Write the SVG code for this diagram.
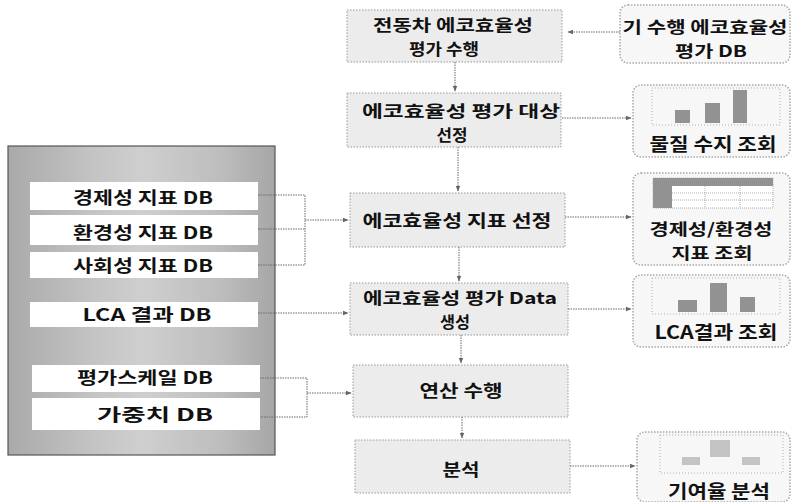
<svg xmlns="http://www.w3.org/2000/svg" width="793" height="502" viewBox="0 0 793 502">
<defs>
<linearGradient id="panelGrad" x1="0" y1="0" x2="1" y2="0">
<stop offset="0" stop-color="#a9a9a9"/>
<stop offset="0.3" stop-color="#c2c2c2"/>
<stop offset="0.5" stop-color="#cfcfcf"/>
<stop offset="0.8" stop-color="#bdbdbd"/>
<stop offset="1" stop-color="#a6a6a6"/>
</linearGradient>
<marker id="arr" viewBox="0 0 10 10" refX="9" refY="5" markerWidth="6" markerHeight="6" orient="auto">
<path d="M0,1 L10,5 L0,9 z" fill="#666"/>
</marker>
</defs>
<style>
text{font-family:"Noto Sans CJK KR","Noto Sans",sans-serif;font-weight:bold;fill:#111;text-anchor:middle}
.t{font-size:17px}
.t2{font-size:16px}
.r{font-size:18px}
.r2{font-size:16px}
.proc{fill:#ececec;stroke:#9a9a9a;stroke-width:1;stroke-dasharray:1.5 1.5}
.db{fill:#ffffff}
.card{fill:#f7f7f7;stroke:#a8a8a8;stroke-width:1.5;stroke-dasharray:1.5 1.5}
.frame{fill:none;stroke:#b0b0b0;stroke-width:1;stroke-dasharray:1 2}
.bar{fill:#929292}
.lbar{fill:#c4c4c4}
.con{fill:none;stroke:#6a6a6a;stroke-width:1;stroke-dasharray:1.5 1}
</style>
<rect width="793" height="502" fill="#ffffff"/>

<g id="db-panel">
<rect x="8" y="146" width="267" height="309" fill="url(#panelGrad)" stroke="#555" stroke-width="1.2"/>
</g>
<g id="db-econ">
<rect class="db" x="30" y="182" width="228" height="28"/>
<text class="t" x="143" y="204" textLength="140" lengthAdjust="spacingAndGlyphs">경제성 지표 DB</text>
</g>
<g id="db-env">
<rect class="db" x="30" y="215" width="228" height="30"/>
<text class="t" x="143" y="239" textLength="140" lengthAdjust="spacingAndGlyphs">환경성 지표 DB</text>
</g>
<g id="db-social">
<rect class="db" x="30" y="252" width="228" height="26"/>
<text class="t" x="143" y="272" textLength="140" lengthAdjust="spacingAndGlyphs">사회성 지표 DB</text>
</g>
<g id="db-lca">
<rect class="db" x="30" y="302" width="228" height="25"/>
<text class="t" x="147" y="321" textLength="129" lengthAdjust="spacingAndGlyphs">LCA 결과 DB</text>
</g>
<g id="db-scale">
<rect class="db" x="32" y="365" width="228" height="27"/>
<text class="t" x="145" y="384" textLength="136" lengthAdjust="spacingAndGlyphs">평가스케일 DB</text>
</g>
<g id="db-weight">
<rect class="db" x="32" y="398" width="228" height="32"/>
<text class="t" x="155" y="421" textLength="116" lengthAdjust="spacingAndGlyphs">가중치 DB</text>
</g>

<g id="p1">
<rect class="proc" x="347" y="10" width="215" height="52"/>
<text class="t2" x="453" y="31" textLength="160" lengthAdjust="spacingAndGlyphs">전동차 에코효율성</text>
<text class="t2" x="444" y="55" textLength="70" lengthAdjust="spacingAndGlyphs">평가 수행</text>
</g>
<g id="p2">
<rect class="proc" x="347" y="93" width="214" height="54"/>
<text class="t2" x="461" y="117" textLength="198" lengthAdjust="spacingAndGlyphs">에코효율성 평가 대상</text>
<text class="t2" x="452" y="141" textLength="31" lengthAdjust="spacingAndGlyphs">선정</text>
</g>
<g id="p3">
<rect class="proc" x="350" y="193" width="215" height="54"/>
<text class="t" x="457" y="227" textLength="189" lengthAdjust="spacingAndGlyphs">에코효율성 지표 선정</text>
</g>
<g id="p4">
<rect class="proc" x="350" y="283" width="218" height="52"/>
<text class="t2" x="460" y="304" textLength="194" lengthAdjust="spacingAndGlyphs">에코효율성 평가 Data</text>
<text class="t2" x="455" y="328" textLength="30" lengthAdjust="spacingAndGlyphs">생성</text>
</g>
<g id="p5">
<rect class="proc" x="353" y="365" width="215" height="52"/>
<text class="t" x="461" y="397" textLength="83" lengthAdjust="spacingAndGlyphs">연산 수행</text>
</g>
<g id="p6">
<rect class="proc" x="355" y="440" width="215" height="53"/>
<text class="t" x="461" y="476" textLength="37" lengthAdjust="spacingAndGlyphs">분석</text>
</g>

<g id="r1">
<rect class="card" x="620" y="5" width="170" height="58" rx="8"/>
<text class="r2" x="705" y="33" textLength="165" lengthAdjust="spacingAndGlyphs">기 수행 에코효율성</text>
<text class="r2" x="711" y="57" textLength="72" lengthAdjust="spacingAndGlyphs">평가 DB</text>
</g>
<g id="r2">
<rect class="card" x="633" y="85" width="157" height="72" rx="8"/>
<rect class="frame" x="652" y="88" width="128" height="37"/>
<rect class="bar" x="675" y="110" width="15" height="13"/>
<rect class="bar" x="705" y="103" width="15" height="20"/>
<rect class="bar" x="733" y="90" width="14" height="33"/>
<text class="r" x="713" y="151" textLength="127" lengthAdjust="spacingAndGlyphs">물질 수지 조회</text>
</g>
<g id="r3">
<rect class="card" x="633" y="173" width="157" height="92" rx="8"/>
<rect x="653" y="178" width="120" height="30" fill="#ffffff" stroke="#999" stroke-width="0.8" stroke-dasharray="1 1"/>
<rect class="bar" x="653" y="178" width="120" height="8"/>
<rect class="bar" x="653" y="178" width="19" height="30"/>
<path d="M672 193 H773 M672 200 H773 M705 186 V208 M740 186 V208" stroke="#999" stroke-width="0.8" stroke-dasharray="1 1" fill="none"/>
<text class="r2" x="711" y="235" textLength="123" lengthAdjust="spacingAndGlyphs">경제성/환경성</text>
<text class="r2" x="712" y="259" textLength="81" lengthAdjust="spacingAndGlyphs">지표 조회</text>
</g>
<g id="r4">
<rect class="card" x="633" y="275" width="157" height="72" rx="8"/>
<rect class="frame" x="652" y="278" width="128" height="36"/>
<rect class="bar" x="678" y="300" width="19" height="12"/>
<rect class="bar" x="710" y="283" width="17" height="29"/>
<rect class="bar" x="740" y="297" width="15" height="15"/>
<text class="r" x="716" y="339" textLength="123" lengthAdjust="spacingAndGlyphs">LCA결과 조회</text>
</g>
<g id="r5">
<rect class="card" x="637" y="432" width="153" height="70" rx="8"/>
<rect class="frame" x="660" y="435" width="123" height="38"/>
<rect class="lbar" x="682" y="457" width="18" height="8"/>
<rect class="lbar" x="710" y="440" width="20" height="17"/>
<rect class="lbar" x="742" y="457" width="18" height="8"/>
<text class="r" x="719" y="498" textLength="102" lengthAdjust="spacingAndGlyphs">기여율 분석</text>
</g>

<g id="connectors">
<path class="con" d="M455 62 V91" marker-end="url(#arr)"/>
<path class="con" d="M458 147 V191" marker-end="url(#arr)"/>
<path class="con" d="M459 247 V281" marker-end="url(#arr)"/>
<path class="con" d="M461 335 V363" marker-end="url(#arr)"/>
<path class="con" d="M462 417 V438" marker-end="url(#arr)"/>
<path class="con" d="M620 32 H568" marker-end="url(#arr)"/>
<path class="con" d="M562 118 H631" marker-end="url(#arr)"/>
<path class="con" d="M565 217 H631" marker-end="url(#arr)"/>
<path class="con" d="M568 309 H631" marker-end="url(#arr)"/>
<path class="con" d="M570 466 H635" marker-end="url(#arr)"/>
<path class="con" d="M258 195 H305 V265 H258 M258 229 H305"/>
<path class="con" d="M305 220 H348" marker-end="url(#arr)"/>
<path class="con" d="M258 313 H348" marker-end="url(#arr)"/>
<path class="con" d="M260 378 H307 V417 H260"/>
<path class="con" d="M307 393 H351" marker-end="url(#arr)"/>
</g>
</svg>
